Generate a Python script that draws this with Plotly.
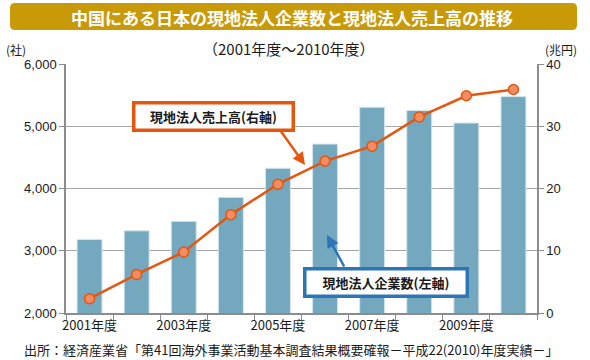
import plotly.graph_objects as go

years = ["2001年度", "2002年度", "2003年度", "2004年度", "2005年度",
         "2006年度", "2007年度", "2008年度", "2009年度", "2010年度"]
tick_text = ["2001年度", "", "2003年度", "", "2005年度", "", "2007年度", "", "2009年度", ""]
companies = [3182, 3320, 3472, 3858, 4325, 4714, 5306, 5254, 5052, 5476]   # 社 (left axis)
sales = [2.3, 6.2, 9.8, 15.8, 20.7, 24.4, 26.8, 31.5, 34.9, 35.9]          # 兆円 (right axis)

W, H = 590, 360
L, R, T, B = 66, 537, 64, 313
FONT = "Liberation Sans, Arial, Noto Sans CJK JP"
JP = "Noto Sans CJK JP, Liberation Sans"

def px(x):
    return (x - L) / (R - L)

def py(y):
    return (B - y) / (B - T)

fig = go.Figure()
fig.add_trace(go.Bar(
    x=years, y=companies, yaxis="y", name="現地法人企業数",
    marker=dict(color="#73A8BF", line=dict(color="#D5E6EE", width=1)),
))
fig.add_trace(go.Scatter(
    x=years, y=sales, yaxis="y2", mode="lines+markers", name="現地法人売上高",
    line=dict(color="#E4570F", width=2.5),
    marker=dict(size=10, color="#F28D63", line=dict(color="#E4570F", width=1.5)),
))

axis_col = "#8C8C8C"
fig.update_layout(
    width=W, height=H,
    margin=dict(l=L, r=W - R, t=T, b=H - B),
    paper_bgcolor="white", plot_bgcolor="white",
    showlegend=False, bargap=0.47,
    font=dict(family=FONT, size=13, color="#1a1a1a"),
    xaxis=dict(
        type="category", tickmode="array", tickvals=years, ticktext=tick_text,
        tickson="boundaries", ticks="outside", ticklen=5, tickcolor=axis_col,
        showline=True, linecolor=axis_col, linewidth=1.5, showgrid=False,
        range=[-0.5, 9.5], tickfont=dict(size=13, family=JP), tickangle=0,
    ),
    yaxis=dict(
        range=[2000, 6000], dtick=1000, tickformat=",", showgrid=True,
        gridcolor="#A6A6A6", gridwidth=1, zeroline=False,
        showline=True, linecolor=axis_col, linewidth=1.5,
        ticks="outside", ticklen=5, tickcolor=axis_col, tickfont=dict(size=13),
    ),
    yaxis2=dict(
        range=[0, 40], dtick=10, overlaying="y", side="right", showgrid=False,
        zeroline=False, showline=True, linecolor=axis_col, linewidth=1.5,
        ticks="outside", ticklen=5, tickcolor=axis_col, tickfont=dict(size=13),
    ),
)

# title banner (rounded rectangle)
x0, x1, y0, y1, r = 10, 577, 3, 30, 5
path = (f"M {px(x0 + r)} {py(y0)} L {px(x1 - r)} {py(y0)} "
        f"Q {px(x1)} {py(y0)} {px(x1)} {py(y0 + r)} L {px(x1)} {py(y1 - r)} "
        f"Q {px(x1)} {py(y1)} {px(x1 - r)} {py(y1)} L {px(x0 + r)} {py(y1)} "
        f"Q {px(x0)} {py(y1)} {px(x0)} {py(y1 - r)} L {px(x0)} {py(y0 + r)} "
        f"Q {px(x0)} {py(y0)} {px(x0 + r)} {py(y0)} Z")
fig.add_shape(type="path", path=path, xref="paper", yref="paper",
              fillcolor="#C99A08", line=dict(width=0), layer="below")

def text(x, y, s, size, xanchor="center", color="#1a1a1a", bold=False, family=JP):
    fig.add_annotation(x=px(x), y=py(y), xref="paper", yref="paper",
                       text=f"<b>{s}</b>" if bold else s, showarrow=False,
                       xanchor=xanchor, yanchor="middle",
                       font=dict(size=size, color=color, family=family))

text(292, 17, "中国にある日本の現地法人企業数と現地法人売上高の推移", 17, color="white", bold=True)
text(289, 48, "（2001年度～2010年度）", 15)
text(4, 50, "(社)", 12, xanchor="left")
text(543, 50, "(兆円)", 12, xanchor="left")
text(22, 349, "出所：経済産業省「第41回海外事業活動基本調査結果概要確報－平成22(2010)年度実績－」", 13, xanchor="left")

# arrows
fig.add_annotation(x=px(305), y=py(165), xref="paper", yref="paper", text="",
                   showarrow=True, ax=-25, ay=-35, axref="pixel", ayref="pixel",
                   arrowcolor="#E4570F", arrowwidth=2.5, arrowhead=2, arrowsize=1)
fig.add_annotation(x=px(327), y=py(235), xref="paper", yref="paper", text="",
                   showarrow=True, ax=18, ay=33, axref="pixel", ayref="pixel",
                   arrowcolor="#2E75B6", arrowwidth=2.5, arrowhead=2, arrowsize=1)

# label boxes
fig.add_annotation(x=px(213), y=py(116), xref="paper", yref="paper",
                   xanchor="center", yanchor="middle",
                   text="<b>現地法人売上高(右軸)</b>", showarrow=False,
                   width=150, height=18, borderpad=3, borderwidth=3.5,
                   bordercolor="#E4570F", bgcolor="white",
                   font=dict(size=13, family=JP, color="#1a1a1a"))
fig.add_annotation(x=px(385.5), y=py(282), xref="paper", yref="paper",
                   xanchor="center", yanchor="middle",
                   text="<b>現地法人企業数(左軸)</b>", showarrow=False,
                   width=153, height=18, borderpad=3, borderwidth=3.5,
                   bordercolor="#2E75B6", bgcolor="white",
                   font=dict(size=13, family=JP, color="#1a1a1a"))

fig.write_html("out.html", config={"displayModeBar": False},
               post_script="document.body.style.margin='0';")
